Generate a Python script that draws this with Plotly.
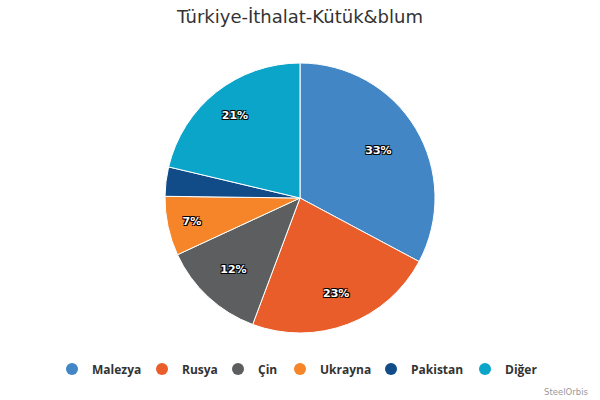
import plotly.graph_objects as go

categories = ["Malezya", "Rusya", "Çin", "Ukrayna", "Pakistan", "Diğer"]
values = [32.8, 22.9, 12.4, 7.1, 3.5, 21.3]

colors = ["#4286c5", "#e85d2a", "#5d5e60", "#f68428", "#114c88", "#0ba5c9"]
# which slices show a label, and which label layer (inner / outer radius) carries it
label_inner = [False, False, True, True, False, False]
label_outer = [True, True, False, False, False, True]
legend_marker_px = [72, 162, 238, 300, 391, 485]

W, H = 600, 400
cx, cy, r = 300, 198, 135
R_out = 170

label_font = dict(family="DejaVu Sans", size=11, color="white", weight="bold",
                  shadow="1px 1px 0px #000, -1px -1px 0px #000, 1px -1px 0px #000, -1px 1px 0px #000")

fig = go.Figure()
# main pie
fig.add_trace(go.Pie(
    labels=categories, values=values,
    marker=dict(colors=colors, line=dict(color="white", width=1)),
    sort=False, direction="clockwise", rotation=0,
    texttemplate=["%{percent:.0%}" if s else "" for s in label_inner],
    textposition="inside", insidetextorientation="horizontal",
    textfont=label_font,
    domain=dict(x=[(cx - r) / W, (cx + r) / W], y=[1 - (cy + r) / H, 1 - (cy - r) / H]),
    showlegend=False, hoverinfo="label+percent",
))
# transparent label layer (places big-slice labels nearer the rim)
fig.add_trace(go.Pie(
    labels=categories, values=values,
    marker=dict(colors=["rgba(0,0,0,0)"] * len(values), line=dict(width=0)),
    sort=False, direction="clockwise", rotation=0,
    texttemplate=["%{percent:.0%}" if s else "" for s in label_outer],
    textposition="inside", insidetextorientation="horizontal",
    textfont=label_font,
    domain=dict(x=[(cx - R_out) / W, (cx + R_out) / W],
                y=[1 - (cy + R_out) / H, 1 - (cy - R_out) / H]),
    showlegend=False, hoverinfo="skip",
))

legend_layout = {}
for i, (c, col, mx) in enumerate(zip(categories, colors, legend_marker_px)):
    key = "legend" if i == 0 else f"legend{i + 1}"
    fig.add_trace(go.Scatter(
        x=[None], y=[None], mode="markers", name=c,
        marker=dict(symbol="circle", size=12, color=col),
        showlegend=True, legend=key,
    ))
    legend_layout[key] = dict(
        x=(mx - 20) / W, xanchor="left", y=1 - 369 / H, yanchor="middle",
        bgcolor="rgba(0,0,0,0)", borderwidth=0,
        font=dict(family="Open Sans", size=12, color="#333333", weight="bold"),
    )

fig.update_layout(
    width=W, height=H,
    paper_bgcolor="white", plot_bgcolor="white",
    margin=dict(l=0, r=0, t=0, b=0),
    title=dict(text="Türkiye-İthalat-Kütük&blum", x=0.5, xanchor="center",
               y=1 - 17 / H, yanchor="middle",
               font=dict(family="DejaVu Sans", size=18, color="#333333")),
    xaxis=dict(visible=False), yaxis=dict(visible=False),
    annotations=[dict(text="SteelOrbis", xref="paper", yref="paper",
                      x=590 / W, xanchor="right", y=1 - 392 / H, yanchor="middle",
                      showarrow=False, font=dict(family="DejaVu Sans", size=8.5, color="#999999"))],
    **legend_layout,
)

fig.write_html("out.html", config={"displayModeBar": False},
               post_script="document.body.style.margin='0';")
